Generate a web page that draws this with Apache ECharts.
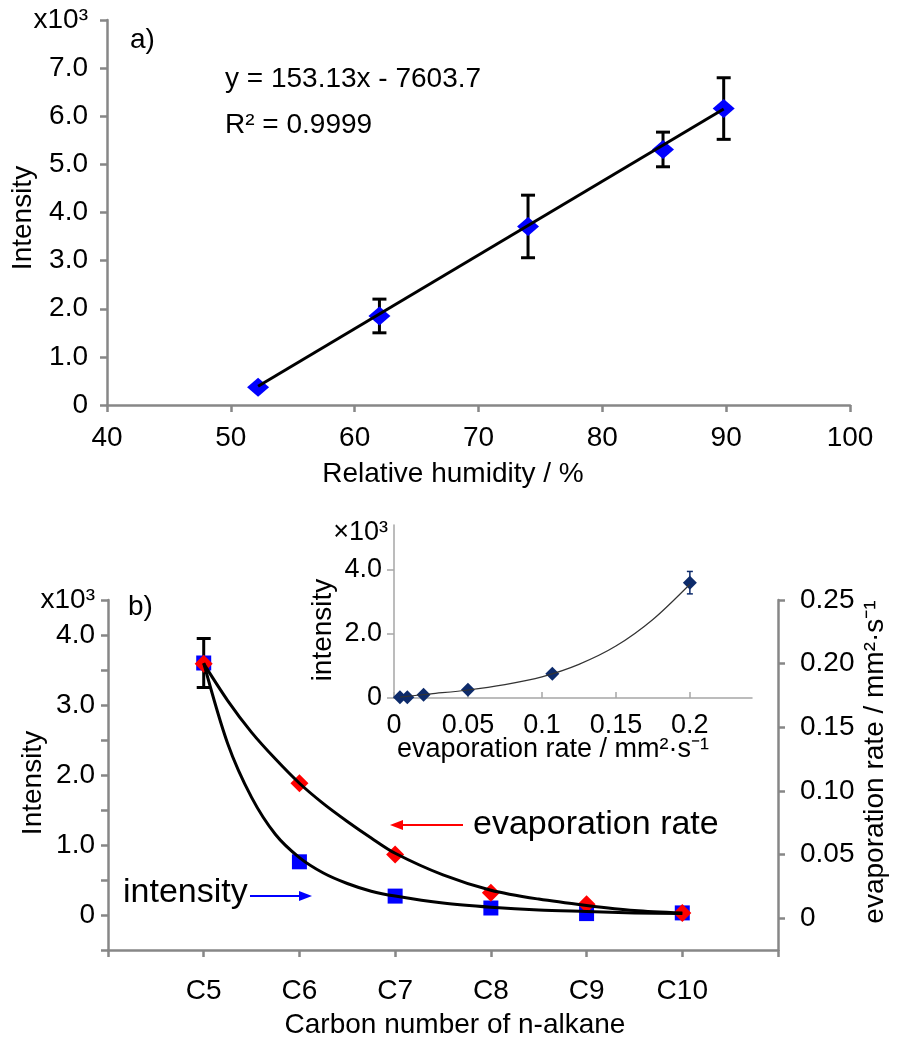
<!DOCTYPE html>
<html>
<head>
<meta charset="utf-8">
<script src="https://cdn.jsdelivr.net/npm/echarts@6/dist/echarts.min.js"></script>
<style>
html, body { margin: 0; background: #fff; }
#main { width: 897px; height: 1044px; }
</style>
</head>
<body>
<div id="main"></div>
<script>
// a) intensity (x10^3) vs relative humidity
var humidity = [52.2, 62.0, 74.0, 84.9, 89.8];
var humIntensity = [0.37, 1.85, 3.71, 5.31, 6.16];
var humError = [0, 0.35, 0.65, 0.36, 0.64];
var trendX = [52.2, 89.8];
var trendY = [0.39, 6.15];
var humTicks = [40, 50, 60, 70, 80, 90, 100];
var humYTicks = [0, 1, 2, 3, 4, 5, 6, 7, 8];

// b) intensity and evaporation rate vs carbon number
var carbonNums = [5, 6, 7, 8, 9, 10];
var carbonLabels = ['C5', 'C6', 'C7', 'C8', 'C9', 'C10'];
var alkIntensity = [3.60, 0.76, 0.27, 0.10, 0.02, 0.03];
var alkError = [0.35, 0, 0, 0, 0, 0];
var evapRate = [0.200, 0.106, 0.050, 0.020, 0.011, 0.004];
// fitted curves
var fitX = [5, 5.25, 5.5, 5.75, 6, 6.25, 6.5, 6.75, 7, 7.5, 8, 8.5, 9, 9.5, 10];
var intensityFit = [3.60, 2.45, 1.68, 1.15, 0.82, 0.60, 0.45, 0.34, 0.27, 0.17, 0.11, 0.07, 0.05, 0.03, 0.02];
var evapFit = [0.200, 0.171, 0.146, 0.125, 0.106, 0.090, 0.076, 0.063, 0.051, 0.034, 0.022, 0.015, 0.010, 0.006, 0.004];
var leftTicks = [-0.5, 0, 0.5, 1, 1.5, 2, 2.5, 3, 3.5, 4, 4.5];
var leftLabels = [0, 1, 2, 3, 4, 4.5];
var rightTicks = [0, 0.05, 0.10, 0.15, 0.20, 0.25];

// inset: intensity vs evaporation rate
var insetRate = [0.004, 0.009, 0.020, 0.050, 0.107, 0.200];
var insetIntensity = [0.02, 0.02, 0.10, 0.26, 0.76, 3.60];
var insetError = [0, 0, 0, 0, 0, 0.35];
var insetFitX = [0.004, 0.025, 0.05, 0.075, 0.1, 0.125, 0.15, 0.175, 0.2];
var insetFitY = [0.03, 0.13, 0.25, 0.42, 0.66, 1.05, 1.62, 2.45, 3.55];
var insetXTicks = [0, 0.05, 0.1, 0.15, 0.2];
var insetYTicks = [0, 2, 4];

var FONT = 'Liberation Sans, Arial, sans-serif';
var AXIS_GREY = '#878787';

var chartDom = document.getElementById('main');
var myChart = echarts.init(chartDom);

function pairs(xs, ys) {
    return xs.map(function (x, i) { return [x, ys[i]]; });
}

function errBars(xs, ys, errs) {
    var out = [];
    for (var i = 0; i < xs.length; i++) {
        if (errs[i] > 0) out.push([xs[i], ys[i] - errs[i], ys[i] + errs[i]]);
    }
    return out;
}

function errorBarRenderer(color, width, cap) {
    return function (params, api) {
        var hi = api.coord([api.value(0), api.value(2)]);
        var lo = api.coord([api.value(0), api.value(1)]);
        var st = { stroke: color, lineWidth: width };
        return {
            type: 'group',
            children: [
                { type: 'line', shape: { x1: hi[0], y1: hi[1], x2: lo[0], y2: lo[1] }, style: st },
                { type: 'line', shape: { x1: hi[0] - cap, y1: hi[1], x2: hi[0] + cap, y2: hi[1] }, style: st },
                { type: 'line', shape: { x1: lo[0] - cap, y1: lo[1], x2: lo[0] + cap, y2: lo[1] }, style: st }
            ]
        };
    };
}

function fmtOne(v) {
    return v === 0 ? '0' : v.toFixed(1);
}

function merge(a, extra) {
    for (var k in extra) {
        if (typeof extra[k] === 'object' && a[k]) {
            for (var j in extra[k]) a[k][j] = extra[k][j];
        } else {
            a[k] = extra[k];
        }
    }
    return a;
}

function mainAxis(extra) {
    return merge({
        axisLine: { show: true, onZero: false, lineStyle: { color: AXIS_GREY, width: 2.5 } },
        axisTick: { show: true, length: 7, lineStyle: { color: AXIS_GREY, width: 2.5 } },
        axisLabel: { color: '#000', fontSize: 28, fontFamily: FONT },
        splitLine: { show: false }
    }, extra);
}

function insetAxis(extra) {
    return merge({
        axisLine: { show: true, onZero: false, lineStyle: { color: '#a6a6a6', width: 1.5 } },
        axisTick: { show: true, length: 7, lineStyle: { color: '#a6a6a6', width: 1.5 } },
        axisLabel: { color: '#000', fontSize: 27, fontFamily: FONT, margin: 12 },
        splitLine: { show: false }
    }, extra);
}

function txt(x, y, s, size, opts) {
    var o = {
        type: 'text', x: x, y: y, z: 50,
        style: {
            text: s, fill: '#000', font: (size || 28) + 'px ' + FONT,
            textAlign: 'left', textVerticalAlign: 'middle'
        }
    };
    if (opts) {
        if (opts.align) o.style.textAlign = opts.align;
        if (opts.rotation) o.rotation = opts.rotation;
    }
    return o;
}

function arrow(x1, x2, y, color) {
    var dir = x2 > x1 ? 1 : -1;
    return [
        { type: 'line', z: 50, shape: { x1: x1, y1: y, x2: x2 - dir * 10, y2: y }, style: { stroke: color, lineWidth: 2 } },
        { type: 'polygon', z: 50, shape: { points: [[x2, y], [x2 - dir * 13, y - 5], [x2 - dir * 13, y + 5]] }, style: { fill: color } }
    ];
}

var option = {
    animation: false,
    backgroundColor: '#fff',
    textStyle: { fontFamily: FONT },
    grid: [
        { left: 107, top: 20, width: 743, height: 385 },
        { left: 108, top: 600, width: 670, height: 350 },
        { left: 394, top: 525, width: 358, height: 173 }
    ],
    xAxis: [
        mainAxis({
            type: 'value', gridIndex: 0, min: 40, max: 100,
            axisTick: { customValues: humTicks },
            axisLabel: { customValues: humTicks, margin: 19 }
        }),
        mainAxis({
            type: 'value', gridIndex: 1, min: 4, max: 11, interval: 1,
            axisLabel: {
                margin: 27,
                formatter: function (v) {
                    var i = carbonNums.indexOf(v);
                    return i >= 0 ? carbonLabels[i] : '';
                }
            }
        }),
        insetAxis({
            type: 'value', gridIndex: 2, min: 0, max: 0.242,
            axisTick: { customValues: insetXTicks, inside: true, length: 6 },
            axisLabel: { customValues: insetXTicks, margin: 14 }
        })
    ],
    yAxis: [
        mainAxis({
            type: 'value', gridIndex: 0, min: 0, max: 8,
            axisTick: { customValues: humYTicks },
            axisLabel: {
                customValues: humYTicks, margin: 19,
                formatter: function (v) { return v === 8 ? 'x10³' : fmtOne(v); }
            }
        }),
        mainAxis({
            type: 'value', gridIndex: 1, min: -0.5, max: 4.5,
            axisTick: { customValues: leftTicks },
            axisLabel: {
                customValues: leftLabels, margin: 13,
                formatter: function (v) { return v === 4.5 ? 'x10³' : fmtOne(v); }
            }
        }),
        mainAxis({
            type: 'value', gridIndex: 1, position: 'right', min: -0.025, max: 0.25,
            axisTick: { customValues: rightTicks },
            axisLabel: {
                customValues: rightTicks, margin: 22,
                formatter: function (v) { return v === 0 ? '0' : v.toFixed(2); }
            }
        }),
        insetAxis({
            type: 'value', gridIndex: 2, min: 0, max: 5.4,
            axisTick: { customValues: insetYTicks },
            axisLabel: { customValues: insetYTicks, formatter: fmtOne }
        })
    ],
    series: [
        // a)
        {
            type: 'custom', xAxisIndex: 0, yAxisIndex: 0, z: 2,
            renderItem: errorBarRenderer('#000', 3, 7),
            encode: { x: 0, y: [1, 2] },
            data: errBars(humidity, humIntensity, humError)
        },
        {
            type: 'scatter', xAxisIndex: 0, yAxisIndex: 0, z: 3,
            symbol: 'diamond', symbolSize: [22, 19],
            itemStyle: { color: '#0000ff', opacity: 1 },
            data: pairs(humidity, humIntensity)
        },
        {
            type: 'line', xAxisIndex: 0, yAxisIndex: 0, z: 4,
            showSymbol: false, symbol: 'none',
            lineStyle: { color: '#000', width: 3 },
            data: pairs(trendX, trendY)
        },
        // b)
        {
            type: 'custom', xAxisIndex: 1, yAxisIndex: 1, z: 2,
            renderItem: errorBarRenderer('#000', 3, 7),
            encode: { x: 0, y: [1, 2] },
            data: errBars(carbonNums, alkIntensity, alkError)
        },
        {
            type: 'scatter', xAxisIndex: 1, yAxisIndex: 1, z: 3,
            symbol: 'rect', symbolSize: 15,
            itemStyle: { color: '#0000ff', opacity: 1 },
            data: pairs(carbonNums, alkIntensity)
        },
        {
            type: 'scatter', xAxisIndex: 1, yAxisIndex: 2, z: 3,
            symbol: 'diamond', symbolSize: 18,
            itemStyle: { color: '#ff0000', opacity: 1 },
            data: pairs(carbonNums, evapRate)
        },
        {
            type: 'line', xAxisIndex: 1, yAxisIndex: 1, z: 4,
            smooth: 0.3, showSymbol: false, symbol: 'none',
            lineStyle: { color: '#000', width: 3 },
            data: pairs(fitX, intensityFit)
        },
        {
            type: 'line', xAxisIndex: 1, yAxisIndex: 2, z: 4,
            smooth: 0.3, showSymbol: false, symbol: 'none',
            lineStyle: { color: '#000', width: 3 },
            data: pairs(fitX, evapFit)
        },
        // inset
        {
            type: 'custom', xAxisIndex: 2, yAxisIndex: 3, z: 2,
            renderItem: errorBarRenderer('#0d2b6b', 1.5, 3),
            encode: { x: 0, y: [1, 2] },
            data: errBars(insetRate, insetIntensity, insetError)
        },
        {
            type: 'scatter', xAxisIndex: 2, yAxisIndex: 3, z: 3,
            symbol: 'diamond', symbolSize: 14,
            itemStyle: { color: '#0d2b6b', opacity: 1 },
            data: pairs(insetRate, insetIntensity)
        },
        {
            type: 'line', xAxisIndex: 2, yAxisIndex: 3, z: 4,
            smooth: 0.3, showSymbol: false, symbol: 'none',
            lineStyle: { color: '#333', width: 1.2 },
            data: pairs(insetFitX, insetFitY)
        }
    ],
    graphic: [
        txt(130, 40, 'a)', 28),
        txt(225, 79, 'y = 153.13x - 7603.7', 28),
        txt(225, 125, 'R² = 0.9999', 28),
        txt(23, 218, 'Intensity', 28, { align: 'center', rotation: Math.PI / 2 }),
        txt(453, 474, 'Relative humidity / %', 28, { align: 'center' }),
        txt(128, 607, 'b)', 28),
        txt(33, 783, 'Intensity', 28, { align: 'center', rotation: Math.PI / 2 }),
        txt(455, 1025, 'Carbon number of n-alkane', 28, { align: 'center' }),
        txt(875, 762, 'evaporation rate / mm²·s⁻¹', 28, { align: 'center', rotation: Math.PI / 2 }),
        txt(323, 630, 'intensity', 28, { align: 'center', rotation: Math.PI / 2 }),
        txt(553, 750, 'evaporation rate / mm²·s⁻¹', 27, { align: 'center' }),
        txt(388, 533, '×10³', 27, { align: 'right' }),
        txt(473, 825, 'evaporation rate', 34),
        txt(123, 893, 'intensity', 34)
    ].concat(arrow(463, 390, 825, '#ff0000'), arrow(250, 312, 896, '#0000ff'))
};

option && myChart.setOption(option);
</script>
</body>
</html>
